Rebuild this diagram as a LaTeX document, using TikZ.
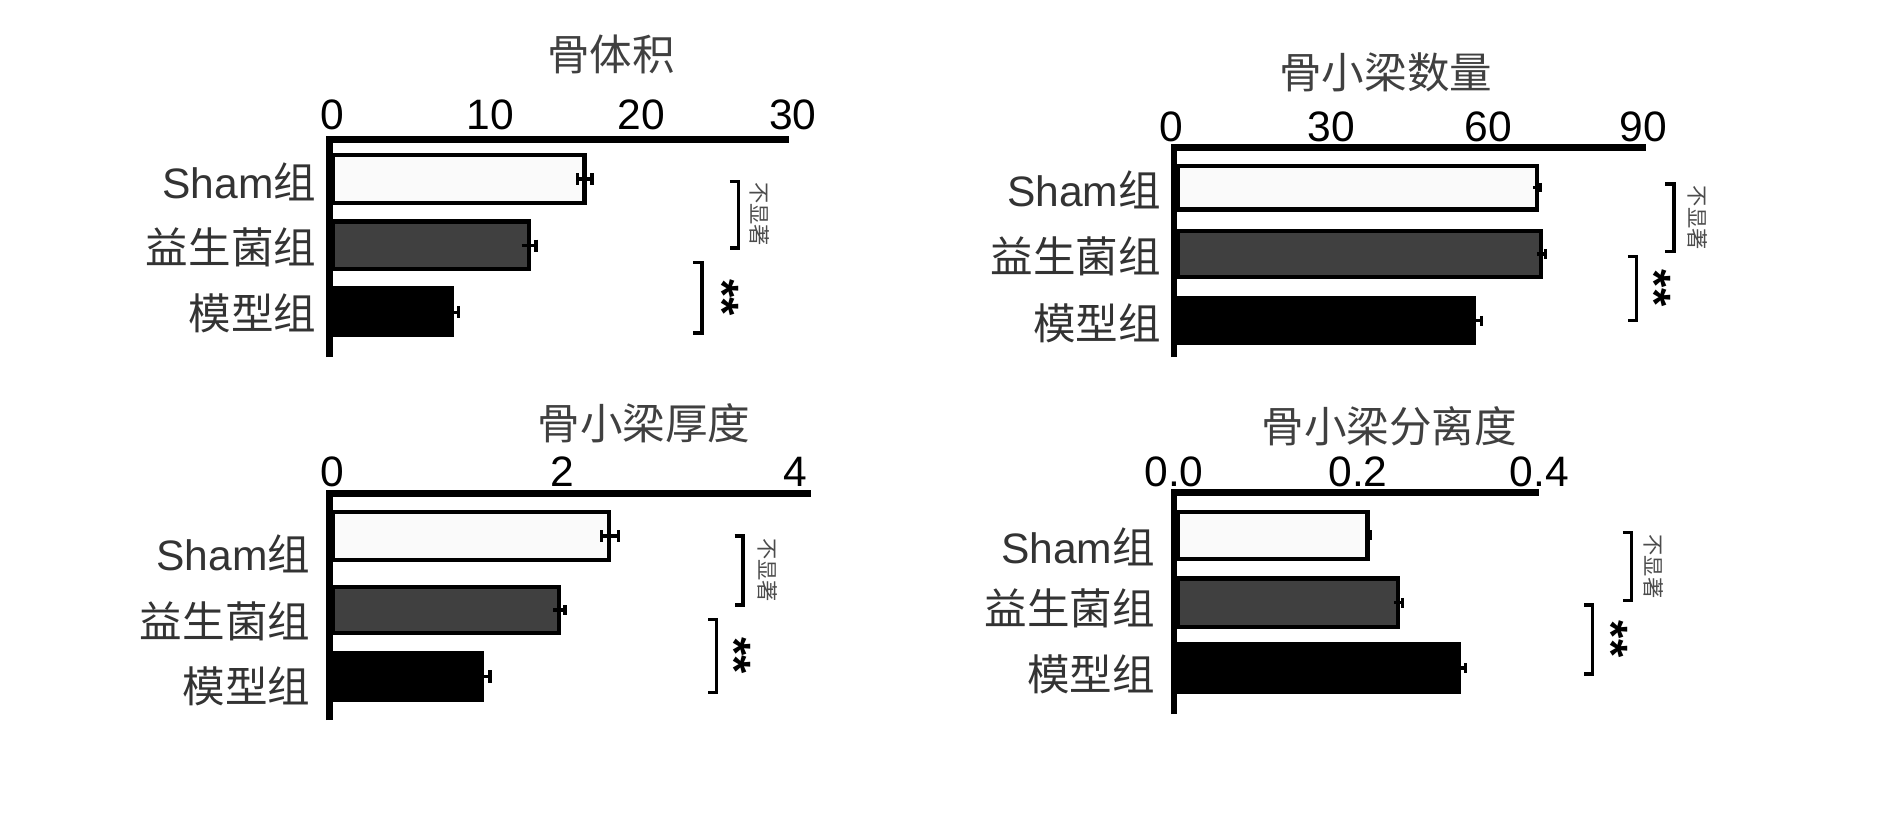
\documentclass[tikz,border=0pt]{standalone}
\usepackage{fontspec}
\setmainfont{Liberation Sans}
\newfontfamily\cjk{Noto Sans CJK SC}
\begin{document}
\begin{tikzpicture}[x=0.01cm,y=-0.01cm]
        \tikzstyle{axis} = [draw=black,line width=1.6pt]
        \tikzstyle{bar} = [draw=black,line width=1pt]
        \tikzstyle{err} = [draw=black,line width=0.8pt]
        \tikzstyle{lab} = [anchor=east,font=\fontsize{10}{10}\selectfont\cjk,text=black!80,inner sep=0]
        \tikzstyle{tick} = [font=\fontsize{10}{10}\selectfont,inner sep=0]
        \tikzstyle{title} = [font=\fontsize{10}{10}\selectfont\cjk,text=black!75,inner sep=0]
        \tikzstyle{ns} = [rotate=-90,font=\fontsize{5}{5}\selectfont\cjk,text=black!70,inner sep=0]
        \tikzstyle{sig} = [rotate=-90,font=\fontsize{11}{11}\selectfont\bfseries,inner sep=0]
        \useasboundingbox (0,0) rectangle (1560,678);
        % panel 1
        \node[title] (t1) at (505,45) {骨体积};
        \coordinate (o1) at (272,115);
        \draw[axis] (272,295) -- (o1) -- (652,115);
        \foreach \v/\x in {0/275,10/405,20/530,30/655} \node[tick] at (\x,95) {\v};
        \draw[bar,fill=black!2] (275,128) rectangle (483,168);
        \draw[bar,fill=black!75] (275,183) rectangle (437,222);
        \draw[bar,fill=black] (275,238) rectangle (373,277);
        \draw[err] (477,148) -- (489,148) (477,143) -- (477,153) (489,143) -- (489,153);
        \draw[err] (431,203) -- (443,203) (443,198) -- (443,208);
        \draw[err] (373,258) -- (379,258) (379,253) -- (379,263);
        \node[lab] (a1) at (262,150) {\fontspec{Liberation Sans}Sham\cjk 组};
        \node[lab] (b1) at (262,204) {益生菌组};
        \node[lab] (c1) at (262,259) {模型组};
        \draw[err] (603,150) -- (610,150) -- (610,205) -- (603,205);
        \node[ns] at (628,177) {不显著};
        \draw[err] (573,217) -- (580,217) -- (580,275) -- (573,275);
        \node[sig] at (597,246) {**};
        % panel 2
        \node[title] (t2) at (1145,60) {骨小梁数量};
        \draw[axis] (970,295) -- (970,122) -- (1360,122);
        \foreach \v/\x in {0/968,30/1100,60/1230,90/1358} \node[tick] at (\x,105) {\v};
        \draw[bar,fill=black!2] (973,137) rectangle (1270,173);
        \draw[bar,fill=black!75] (973,191) rectangle (1273,229);
        \draw[bar,fill=black] (973,246) rectangle (1218,283);
        \draw[err] (1267,155) -- (1273,155) (1273,151) -- (1273,159);
        \draw[err] (1270,210) -- (1277,210) (1277,206) -- (1277,214);
        \draw[err] (1218,265) -- (1224,265) (1224,261) -- (1224,269);
        \node[lab] (a2) at (960,157) {\fontspec{Liberation Sans}Sham\cjk 组};
        \node[lab] (b2) at (960,212) {益生菌组};
        \node[lab] (c2) at (960,267) {模型组};
        \draw[err] (1376,152) -- (1383,152) -- (1383,208) -- (1376,208);
        \node[ns] at (1403,180) {不显著};
        \draw[err] (1345,212) -- (1352,212) -- (1352,265) -- (1345,265);
        \node[sig] at (1367,238) {**};
        % panel 3
        \node[title] (t3) at (532,350) {骨小梁厚度};
        \draw[axis] (272,595) -- (272,408) -- (670,408);
        \foreach \v/\x in {0/275,2/465,4/657} \node[tick] at (\x,390) {\v};
        \draw[bar,fill=black!2] (275,423) rectangle (503,463);
        \draw[bar,fill=black!75] (275,485) rectangle (462,523);
        \draw[bar,fill=black] (275,540) rectangle (398,578);
        \draw[err] (497,443) -- (511,443) (497,438) -- (497,448) (511,438) -- (511,448);
        \draw[err] (457,504) -- (467,504) (467,500) -- (467,508);
        \draw[err] (398,559) -- (405,559) (405,554) -- (405,564);
        \node[lab] (a3) at (257,458) {\fontspec{Liberation Sans}Sham\cjk 组};
        \node[lab] (b3) at (257,513) {益生菌组};
        \node[lab] (c3) at (257,567) {模型组};
        \draw[err] (607,443) -- (614,443) -- (614,500) -- (607,500);
        \node[ns] at (634,471) {不显著};
        \draw[err] (585,512) -- (592,512) -- (592,572) -- (585,572);
        \node[sig] at (607,542) {**};
        % panel 4
        \node[title] (t4) at (1148,352) {骨小梁分离度};
        \draw[axis] (970,590) -- (970,407) -- (1272,407);
        \foreach \v/\x in {0.0/970,0.2/1122,0.4/1272} \node[tick] at (\x,390) {\v};
        \draw[bar,fill=black!2] (973,423) rectangle (1130,462);
        \draw[bar,fill=black!75] (973,478) rectangle (1155,518);
        \draw[bar,fill=black] (973,532) rectangle (1205,572);
        \draw[err] (1130,442) -- (1132,442) (1132,438) -- (1132,446);
        \draw[err] (1152,498) -- (1159,498) (1159,494) -- (1159,502);
        \draw[err] (1205,552) -- (1211,552) (1211,548) -- (1211,556);
        \node[lab] (a4) at (955,452) {\fontspec{Liberation Sans}Sham\cjk 组};
        \node[lab] (b4) at (955,503) {益生菌组};
        \node[lab] (c4) at (955,557) {模型组};
        \draw[err] (1341,440) -- (1348,440) -- (1348,496) -- (1341,496);
        \node[ns] at (1366,468) {不显著};
        \draw[err] (1309,500) -- (1316,500) -- (1316,557) -- (1309,557);
        \node[sig] at (1332,528) {**};
\end{tikzpicture}
\end{document}
